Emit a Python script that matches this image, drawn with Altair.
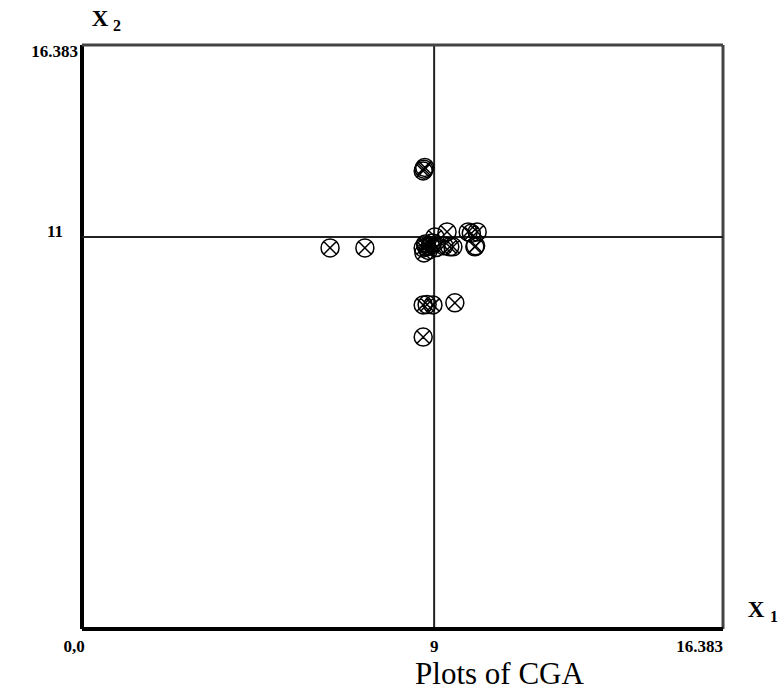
import altair as alt
import pandas as pd

# ---- data ----
pt_x = [8.74, 8.76, 8.72,
        6.34, 7.23,
        8.72, 8.80, 8.74, 8.90, 8.95, 9.02, 8.85, 9.05, 8.78,
        9.33, 9.48, 9.40, 9.87, 10.10, 10.04, 10.06, 9.95, 9.25,
        8.72, 8.97, 8.82, 9.53,
        8.72]
pt_y = [12.90, 12.95, 12.85,
        10.69, 10.69,
        10.69, 10.72, 10.55, 10.75, 10.83, 11.00, 10.62, 10.70, 10.80,
        11.14, 10.72, 10.72, 11.14, 11.14, 10.72, 10.75, 11.10, 10.75,
        9.09, 9.09, 9.10, 9.15,
        8.19]

AX_MAX = 16.383
CROSS_X = 9
CROSS_Y = 11

x_tick_labels = ["0,0", "9", "16.383"]
x_tick_values = [0, 9, 16.383]
y_tick_labels = ["16.383", "11"]
y_tick_values = [16.383, 11]

W, H = 641, 584
SERIF = "Liberation Serif"
LBL = 17

xs = alt.Scale(domain=[0, AX_MAX], nice=False, zero=False)
ys = alt.Scale(domain=[0, AX_MAX], nice=False, zero=False)

pts = pd.DataFrame({"x": pt_x, "y": pt_y})
base = alt.Chart(pts)

marker = ("M-1,0A1,1,0,1,1,1,0A1,1,0,1,1,-1,0Z"
          "M-0.707,-0.707L0.707,0.707M-0.707,0.707L0.707,-0.707")

points = base.mark_point(shape=marker, size=324, filled=False, stroke="black",
                         strokeWidth=1.5, opacity=1).encode(
    x=alt.X("x:Q", scale=xs, axis=None),
    y=alt.Y("y:Q", scale=ys, axis=None),
)

# frame and cross lines
vlines = pd.DataFrame({"x": [0, AX_MAX, CROSS_X], "y": [0, 0, 0], "y2": [AX_MAX, AX_MAX, AX_MAX],
                       "w": ["thick", "thin", "cross"]})
hlines = pd.DataFrame({"y": [0, AX_MAX, CROSS_Y], "x": [0, 0, 0], "x2": [AX_MAX, AX_MAX, AX_MAX],
                       "w": ["thick", "thin", "cross"]})
wscale = alt.Scale(domain=["thick", "thin", "cross"], range=[4, 2, 1.3])
cscale = alt.Scale(domain=["thick", "thin", "cross"], range=["#000000", "#444444", "#222222"])

vr = alt.Chart(vlines).mark_rule().encode(
    x=alt.X("x:Q", scale=xs, axis=None), y=alt.Y("y:Q", scale=ys, axis=None), y2="y2:Q",
    strokeWidth=alt.StrokeWidth("w:N", scale=wscale, legend=None),
    color=alt.Color("w:N", scale=cscale, legend=None))
hr = alt.Chart(hlines).mark_rule().encode(
    y=alt.Y("y:Q", scale=ys, axis=None), x=alt.X("x:Q", scale=xs, axis=None), x2="x2:Q",
    strokeWidth=alt.StrokeWidth("w:N", scale=wscale, legend=None),
    color=alt.Color("w:N", scale=cscale, legend=None))

def txt(df, **kw):
    return alt.Chart(df).mark_text(font=SERIF, fontWeight="bold", color="black", **kw).encode(
        x=alt.X("x:Q", scale=xs, axis=None), y=alt.Y("y:Q", scale=ys, axis=None), text="t:N")

xl0 = txt(pd.DataFrame({"x": [x_tick_values[0]], "y": [0], "t": [x_tick_labels[0]]}),
          fontSize=LBL, align="center", baseline="top", dx=-8, dy=10)
xl1 = txt(pd.DataFrame({"x": [x_tick_values[1]], "y": [0], "t": [x_tick_labels[1]]}),
          fontSize=LBL, align="center", baseline="top", dy=10)
xl2 = txt(pd.DataFrame({"x": [x_tick_values[2]], "y": [0], "t": [x_tick_labels[2]]}),
          fontSize=LBL, align="right", baseline="top", dy=10)
yl0 = txt(pd.DataFrame({"x": [0], "y": [y_tick_values[0]], "t": [y_tick_labels[0]]}),
          fontSize=LBL, align="right", baseline="middle", dx=-4, dy=7)
yl1 = txt(pd.DataFrame({"x": [0], "y": [y_tick_values[1]], "t": [y_tick_labels[1]]}),
          fontSize=LBL, align="right", baseline="middle", dx=-19, dy=-5)

x2a = txt(pd.DataFrame({"x": [0], "y": [AX_MAX], "t": ["X"]}),
          fontSize=23, align="center", baseline="middle", dx=18, dy=-26)
x2b = txt(pd.DataFrame({"x": [0], "y": [AX_MAX], "t": ["2"]}),
          fontSize=16, align="center", baseline="middle", dx=35, dy=-19)
x1a = txt(pd.DataFrame({"x": [AX_MAX], "y": [0], "t": ["X"]}),
          fontSize=23, align="center", baseline="middle", dx=33, dy=-19)
x1b = txt(pd.DataFrame({"x": [AX_MAX], "y": [0], "t": ["1"]}),
          fontSize=16, align="center", baseline="middle", dx=51, dy=-12)

chart = alt.layer(vr, hr, points, xl0, xl1, xl2, yl0, yl1, x2a, x2b, x1a, x1b).properties(
    width=W, height=H,
    title=alt.TitleParams("Plots of CGA", orient="bottom", anchor="middle", dx=97, offset=5,
                          font=SERIF, fontSize=31, fontWeight="normal", color="black"),
    autosize=alt.AutoSizeParams(type="none"),
    padding={"left": 82, "top": 45, "right": 61, "bottom": 68},
    background="white",
).configure_view(stroke=None)

chart.save("out.html", embed_options={"renderer": "svg", "actions": False})
